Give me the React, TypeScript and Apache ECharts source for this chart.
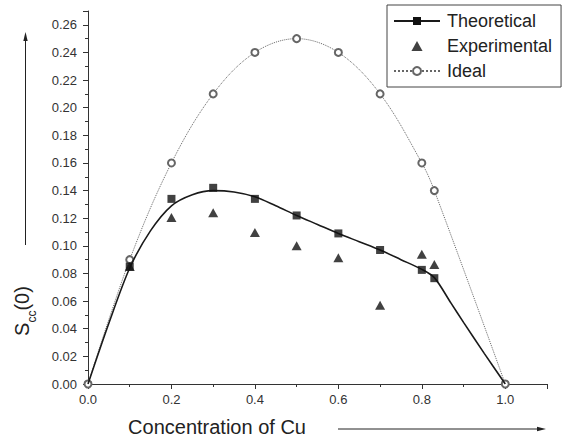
import React, { useEffect, useRef } from 'react';
import * as echarts from 'echarts';

// Concentration of Cu at which the points were given
const concentration = [0.1, 0.2, 0.3, 0.4, 0.5, 0.6, 0.7, 0.8, 0.83];
// Theoretical S_cc(0) points (squares)
const theoreticalPoints = [0.085, 0.134, 0.142, 0.134, 0.122, 0.109, 0.097, 0.0826, 0.0766];
// Experimental S_cc(0) points (triangles)
const experimentalPoints = [0.085, 0.1205, 0.124, 0.1097, 0.1, 0.0913, 0.057, 0.094, 0.0865];
// Smooth theoretical curve
const theoreticalCurveX = [0, 0.05, 0.1, 0.15, 0.2, 0.25, 0.3, 0.35, 0.4, 0.45, 0.5, 0.55, 0.6, 0.65, 0.7, 0.75, 0.8, 0.83, 0.87, 0.9, 0.95, 1.0];
const theoreticalCurveY = [0, 0.044, 0.084, 0.111, 0.129, 0.137, 0.14, 0.139, 0.1355, 0.129, 0.122, 0.1155, 0.109, 0.103, 0.097, 0.09, 0.083, 0.077, 0.0585, 0.0446, 0.022, 0];
// Ideal solution (open circles)
const idealX = [0, 0.1, 0.2, 0.3, 0.4, 0.5, 0.6, 0.7, 0.8, 0.83, 1.0];
const idealY = [0, 0.09, 0.16, 0.21, 0.24, 0.25, 0.24, 0.21, 0.16, 0.14, 0];
// Axes
const xMax = 1.1;
const xStep = 0.2;
const yMax = 0.27;
const yStep = 0.02;
const legendNames = ['Theoretical', 'Experimental', 'Ideal'];

const FONT = '"Liberation Sans", Arial, sans-serif';

export default function App() {
  const ref = useRef<HTMLDivElement>(null);
  useEffect(() => {
    if (!ref.current) return;
    const chart = echarts.init(ref.current, null, { renderer: 'svg' });
    const pair = (xs: number[], ys: number[]) => xs.map((x, i) => [x, ys[i]]);
    const axisCommon = {
      axisLine: { show: true, lineStyle: { color: '#333', width: 1 } },
      axisTick: { show: true, inside: false, length: 5, lineStyle: { color: '#333' } },
      minorTick: { show: true, splitNumber: 2, length: 3, lineStyle: { color: '#333' } },
      splitLine: { show: false },
      minorSplitLine: { show: false },
    };
    chart.setOption({
      animation: false,
      backgroundColor: '#fff',
      grid: { left: 88, right: 18, top: 11, bottom: 57, containLabel: false },
      xAxis: {
        type: 'value',
        min: 0,
        max: xMax,
        interval: xStep,
        ...axisCommon,
        axisLabel: {
          color: '#333',
          fontSize: 13,
          fontFamily: FONT,
          margin: 9,
          showMaxLabel: false,
          formatter: (v: number) => v.toFixed(1),
        },
      },
      yAxis: {
        type: 'value',
        min: 0,
        max: yMax,
        interval: yStep,
        ...axisCommon,
        axisLabel: {
          color: '#333',
          fontSize: 13,
          fontFamily: FONT,
          margin: 11,
          showMaxLabel: false,
          formatter: (v: number) => v.toFixed(2),
        },
      },
      legend: {
        data: [
          { name: legendNames[0] },
          { name: legendNames[1], icon: 'path://M5,0 L10,9 L0,9 Z' },
          { name: legendNames[2] },
        ],
        orient: 'vertical',
        left: 387,
        top: 5,
        padding: [6, 9, 6, 6],
        itemGap: 5,
        itemWidth: 46,
        itemHeight: 10,
        symbolKeepAspect: true,
        borderColor: '#444',
        borderWidth: 1,
        backgroundColor: '#fff',
        textStyle: { fontSize: 18, fontFamily: FONT, color: '#222', lineHeight: 20, padding: [0, 0, 0, 2] },
      },
      series: [
        {
          name: 'Ideal',
          type: 'line',
          data: pair(idealX, idealY),
          smooth: 0.35,
          symbol: 'emptyCircle',
          symbolSize: 7,
          showSymbol: true,
          lineStyle: { color: '#666', width: 1, type: 'dotted' },
          itemStyle: { color: '#666', borderColor: '#666', borderWidth: 1 },
          z: 2,
        },
        {
          name: 'Theoretical',
          type: 'line',
          data: pair(theoreticalCurveX, theoreticalCurveY),
          smooth: 0.3,
          symbol: 'rect',
          symbolSize: 8,
          showSymbol: false,
          lineStyle: { color: '#1a1a1a', width: 1.6 },
          itemStyle: { color: '#111' },
          z: 3,
        },
        {
          name: 'Theoretical',
          type: 'scatter',
          data: pair(concentration, theoreticalPoints),
          symbol: 'rect',
          symbolSize: 8,
          itemStyle: { color: '#111' },
          z: 4,
        },
        {
          name: 'Experimental',
          type: 'scatter',
          data: pair(concentration, experimentalPoints),
          symbol: 'triangle',
          symbolSize: [10, 9],
          symbolKeepAspect: true,
          itemStyle: { color: '#111' },
          z: 5,
        },
      ],
      graphic: [
        {
          type: 'text',
          x: 22,
          y: 311,
          rotation: Math.PI / 2,
          style: {
            text: '{a|S}{b|cc}{a|(0)}',
            align: 'center',
            verticalAlign: 'middle',
            rich: {
              a: { fontSize: 20, fontFamily: FONT, fill: '#222', lineHeight: 24, verticalAlign: 'middle' },
              b: { fontSize: 12, fontFamily: FONT, fill: '#222', lineHeight: 24, verticalAlign: 'bottom', padding: [0, 0, -4, 0] },
            },
          },
        },
        {
          type: 'line',
          shape: { x1: 25.5, y1: 245, x2: 25.5, y2: 40 },
          style: { stroke: '#222', lineWidth: 1 },
        },
        {
          type: 'polygon',
          shape: { points: [[25.5, 32], [23.3, 41], [27.7, 41]] },
          style: { fill: '#222' },
        },
        {
          type: 'text',
          x: 217,
          y: 427,
          style: {
            text: 'Concentration of Cu',
            fontSize: 20,
            fontFamily: FONT,
            fill: '#222',
            align: 'center',
            verticalAlign: 'middle',
          },
        },
        {
          type: 'line',
          shape: { x1: 338, y1: 429, x2: 538, y2: 429 },
          style: { stroke: '#222', lineWidth: 1 },
        },
        {
          type: 'polygon',
          shape: { points: [[546, 429], [537, 426.8], [537, 431.2]] },
          style: { fill: '#222' },
        },
      ],
    });
    return () => chart.dispose();
  }, []);
  return (
    <div
      ref={ref}
      style={{ position: 'fixed', left: 0, top: 0, width: 565, height: 441 }}
    />
  );
}
